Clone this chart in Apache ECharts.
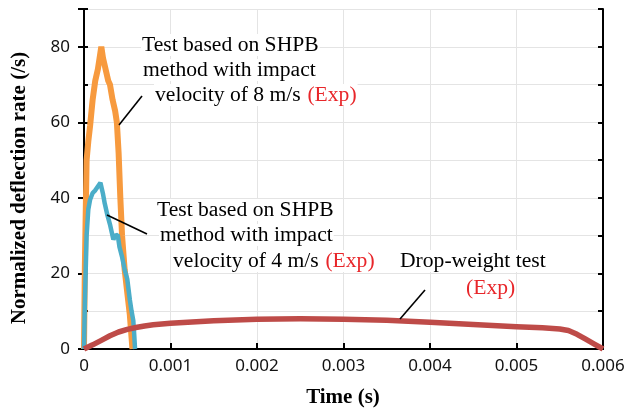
<!DOCTYPE html>
<html>
<head>
<meta charset="utf-8">
<script src="https://cdn.jsdelivr.net/npm/echarts@6/dist/echarts.min.js"></script>
<style>html,body{margin:0;padding:0;background:#fff}#c{width:628px;height:414px}</style>
</head>
<body>
<div id="c"></div>
<script>
// Orange: SHPB 8 m/s
const orangeT = [0, 0.00001, 0.00003, 0.00005, 0.00007, 0.0001, 0.00013, 0.00016, 0.00018, 0.0002, 0.00022, 0.00025, 0.00028, 0.0003, 0.00033, 0.00036, 0.00038, 0.0004, 0.00042, 0.00044, 0.00047, 0.0005, 0.00053, 0.00055, 0.00056];
const orangeV = [0, 22, 50, 55, 59, 66, 71, 74, 77, 80, 77, 74, 71, 70, 66, 63, 60, 52, 40, 30, 21, 15, 9, 3, 0];
// Blue: SHPB 4 m/s
const blueT = [0, 0.00001, 0.00003, 0.00005, 0.00007, 0.0001, 0.00013, 0.00016, 0.00019, 0.0002, 0.00022, 0.00024, 0.00027, 0.0003, 0.00032, 0.00034, 0.00036, 0.00039, 0.00041, 0.00044, 0.00047, 0.0005, 0.00053, 0.00055, 0.00057, 0.00058, 0.00059];
const blueV = [0, 12, 30, 37, 39.5, 41.3, 42, 43, 44, 44.2, 41, 38.5, 35.5, 33, 31, 29, 30, 30.2, 27, 24.4, 21, 18.5, 13, 10, 7.5, 4, 0];
// Red: drop-weight
const redT = [0, 0.0001, 0.0002, 0.0003, 0.0004, 0.0005, 0.0006, 0.0007, 0.0008, 0.0009, 0.001, 0.0012, 0.0015, 0.002, 0.0025, 0.003, 0.0035, 0.004, 0.0045, 0.005, 0.0053, 0.0055, 0.0056, 0.0057, 0.0058, 0.0059, 0.006];
const redV = [0, 1.1, 2.3, 3.5, 4.5, 5.2, 5.7, 6.1, 6.4, 6.6, 6.8, 7.1, 7.5, 7.9, 8.0, 7.9, 7.6, 7.1, 6.5, 5.9, 5.6, 5.3, 4.9, 3.9, 2.6, 1.3, 0];
const xTicks = ['0', '0.001', '0.002', '0.003', '0.004', '0.005', '0.006'];
const yTicks = [0, 20, 40, 60, 80];

const pairs = (t, v) => t.map((x, i) => [x, v[i]]);
const chart = echarts.init(document.getElementById('c'));
const serif = '"Liberation Serif","Times New Roman",serif';
const sans = '"Noto Sans",sans-serif';
const black = '#000';
const F = '21.6px ' + serif;
const txt = (x, y, s) => ({ type: 'text', x: x, y: y, z: 20,
  style: { text: s, font: F, fill: '#000', verticalAlign: 'middle', backgroundColor: '#fff', padding: [0, 1] } });
const rtxt = (x, y, s) => ({ type: 'text', x: x, y: y, z: 20,
  style: { text: '{a|' + s + '}  {r|(Exp)}', verticalAlign: 'middle', backgroundColor: '#fff', padding: [0, 1],
    rich: { a: { font: F, fill: '#000' }, r: { font: F, fill: '#E8262A' } } } });

chart.setOption({
  animation: false,
  grid: { left: 84, right: 25, top: 9, bottom: 65 },
  xAxis: [{
    type: 'value', min: 0, max: 0.006, interval: 0.001,
    axisLine: { lineStyle: { color: black, width: 2 } },
    axisTick: { inside: true, length: 6, lineStyle: { color: black, width: 2 } },
    axisLabel: { color: '#111', fontFamily: sans, fontSize: 17, margin: 9,
      formatter: v => xTicks[Math.round(v / 0.001)] },
    splitLine: { show: true, lineStyle: { color: '#e4e4e4', width: 1 } }
  }, {
    type: 'value', position: 'top', min: 0, max: 0.006,
    axisLine: { show: true, lineStyle: { color: black, width: 2 } },
    axisTick: { show: false }, axisLabel: { show: false }, splitLine: { show: false }
  }],
  yAxis: [{
    type: 'value', min: 0, max: 90, interval: 20,
    axisLine: { show: true, lineStyle: { color: black, width: 2 } },
    axisTick: { show: true, inside: false, length: 6, lineStyle: { color: black, width: 2 } },
    axisLabel: { color: '#111', fontFamily: sans, fontSize: 17, margin: 14,
      formatter: v => (yTicks.indexOf(v) >= 0 ? String(v) : '') },
    splitLine: { show: false }
  }, {
    type: 'value', min: 0, max: 90, interval: 10, position: 'left',
    axisLine: { show: false },
    axisTick: { show: true, inside: true, length: 4, lineStyle: { color: black, width: 2 } },
    axisLabel: { show: false },
    splitLine: { show: true, lineStyle: { color: '#e4e4e4', width: 1 } }
  }, {
    type: 'value', min: 0, max: 90, interval: 10, position: 'right',
    axisLine: { show: true, lineStyle: { color: black, width: 2 } },
    axisTick: { show: true, inside: true, length: 5, lineStyle: { color: black, width: 2 } },
    axisLabel: { show: false }, splitLine: { show: false }
  }],
  series: [
    { type: 'line', data: pairs(orangeT, orangeV), showSymbol: false,
      lineStyle: { color: '#F79A3E', width: 6 }, z: 2 },
    { type: 'line', data: pairs(blueT, blueV), showSymbol: false,
      lineStyle: { color: '#4BADC8', width: 4.5 }, z: 3 },
    { type: 'line', data: pairs(redT, redV), showSymbol: false,
      lineStyle: { color: '#BE4B48', width: 5.5, join: 'round' }, z: 4 }
  ],
  graphic: [
    { type: 'text', x: 20, y: 188, rotation: Math.PI / 2,
      style: { text: 'Normalized deflection rate (/s)', font: 'bold 21px ' + serif, fill: '#000', align: 'center', verticalAlign: 'middle' } },
    { type: 'text', x: 343, y: 398,
      style: { text: 'Time (s)', font: 'bold 21px ' + serif, fill: '#000', align: 'center', verticalAlign: 'middle' } },
    txt(141, 45, 'Test based on SHPB'),
    txt(142, 70, 'method with impact'),
    rtxt(154, 95, 'velocity of 8 m/s'),
    txt(156, 210, 'Test based on SHPB'),
    txt(159, 235, 'method with impact'),
    rtxt(172, 261, 'velocity of 4 m/s'),
    txt(399, 261, 'Drop-weight test'),
    { type: 'text', x: 466, y: 288, z: 20, style: { text: '(Exp)', font: F, fill: '#E8262A', verticalAlign: 'middle', backgroundColor: '#fff' } },
    { type: 'line', shape: { x1: 142, y1: 96, x2: 119, y2: 125 }, style: { stroke: '#000', lineWidth: 1.6 }, z: 21 },
    { type: 'line', shape: { x1: 107, y1: 215, x2: 147, y2: 234 }, style: { stroke: '#000', lineWidth: 1.6 }, z: 21 },
    { type: 'line', shape: { x1: 425, y1: 290, x2: 400, y2: 319 }, style: { stroke: '#000', lineWidth: 1.6 }, z: 21 }
  ]
});
</script>
</body>
</html>
